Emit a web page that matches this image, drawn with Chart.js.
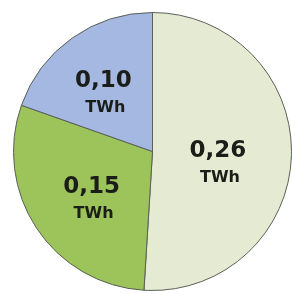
<!DOCTYPE html>
<html>
<head>
<meta charset="utf-8">
<script src="https://cdn.jsdelivr.net/npm/chart.js@4"></script>
<style>
  html, body { margin: 0; padding: 0; background: #fff; }
  #wrap { width: 292px; height: 294px; }
</style>
</head>
<body>
<div id="wrap"><canvas id="pie"></canvas></div>
<script>
// slices, clockwise from 12 o'clock
var values = [0.26, 0.15, 0.10];
var labels = ['0,26', '0,15', '0,10'];
var unit = 'TWh';
var colors = [
    '#e5ebd3', // 0,26
    '#9cc45a', // 0,15
    '#a5b8e1'  // 0,10
];

// label placement: halfway out along the slice, then nudged a bit
var sliceLabels = {
    id: 'sliceLabels',
    afterDatasetsDraw: function (chart, args, opts) {
        var ctx = chart.ctx;
        var meta = chart.getDatasetMeta(0);
        ctx.save();
        ctx.fillStyle = '#1b1d18';
        ctx.textAlign = 'center';
        ctx.textBaseline = 'middle';
        meta.data.forEach(function (arc, i) {
            var p = arc.getProps(['x', 'y', 'startAngle', 'endAngle', 'outerRadius'], true);
            var mid = (p.startAngle + p.endAngle) / 2;
            var r = p.outerRadius * 0.5;
            var n = opts.nudge[i] || [0, 0];
            var x = p.x + Math.cos(mid) * r + n[0];
            var y = p.y + Math.sin(mid) * r + n[1];
            ctx.font = 'bold 23px "DejaVu Sans"';
            ctx.fillText(labels[i], x, y - 14);
            ctx.font = 'bold 16px "DejaVu Sans"';
            ctx.fillText(unit, x + 2, y + 13);
        });
        ctx.restore();
    }
};

new Chart(document.getElementById('pie'), {
    type: 'pie',
    data: {
        labels: labels,
        datasets: [{
            data: values,
            backgroundColor: colors,
            borderColor: '#5b6058',
            borderWidth: 1
        }]
    },
    options: {
        responsive: true,
        maintainAspectRatio: false,
        animation: false,
        layout: { padding: { left: 13, right: 0, top: 11, bottom: 2 } },
        plugins: {
            legend: { display: false },
            tooltip: { enabled: false },
            sliceLabels: { nudge: [[-4, 11], [-3, 11], [-9, 0]] }
        }
    },
    plugins: [sliceLabels]
});
</script>
</body>
</html>
